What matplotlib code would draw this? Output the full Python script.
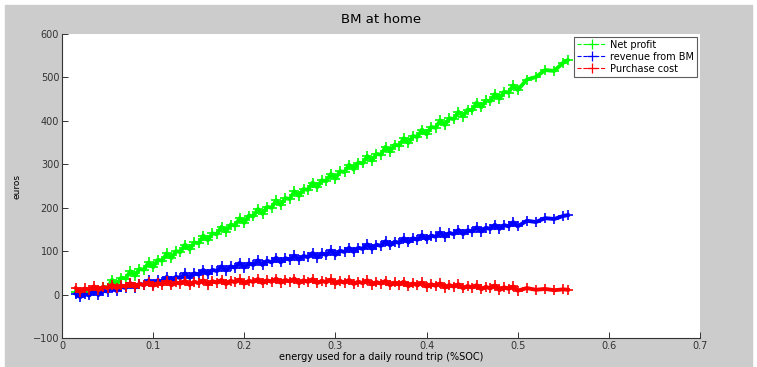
import matplotlib
matplotlib.use("Agg")
import matplotlib.pyplot as plt
from matplotlib.patches import Rectangle

# energy used for a daily round trip (%SOC)
soc = [0.015, 0.020, 0.025, 0.030, 0.035, 0.040, 0.045, 0.050, 0.055, 0.060,
       0.065, 0.070, 0.075, 0.080, 0.085, 0.090, 0.095, 0.100, 0.105, 0.110,
       0.115, 0.120, 0.125, 0.130, 0.135, 0.140, 0.145, 0.150, 0.155, 0.160,
       0.165, 0.170, 0.175, 0.180, 0.185, 0.190, 0.195, 0.200, 0.205, 0.210,
       0.215, 0.220, 0.225, 0.230, 0.235, 0.240, 0.245, 0.250, 0.255, 0.260,
       0.265, 0.270, 0.275, 0.280, 0.285, 0.290, 0.295, 0.300, 0.305, 0.310,
       0.315, 0.320, 0.325, 0.330, 0.335, 0.340, 0.345, 0.350, 0.355, 0.360,
       0.365, 0.370, 0.375, 0.380, 0.385, 0.390, 0.395, 0.400, 0.405, 0.410,
       0.415, 0.420, 0.425, 0.430, 0.435, 0.440, 0.445, 0.450, 0.455, 0.460,
       0.465, 0.470, 0.475, 0.480, 0.485, 0.490, 0.495, 0.500,
       0.51, 0.52, 0.53, 0.54, 0.55, 0.555]

net_profit = [6, 2, 7, 4, 13, 6, 18, 16, 34, 23,
              39, 37, 54, 43, 59, 57, 74, 63, 80, 78,
              95, 84, 100, 98, 115, 104, 120, 118, 136, 125,
              141, 139, 156, 145, 161, 159, 176, 165, 182, 180,
              197, 186, 202, 200, 217, 206, 222, 220, 238, 227,
              243, 241, 258, 247, 263, 261, 278, 267, 284, 282,
              299, 288, 304, 302, 319, 308, 324, 322, 340, 329,
              345, 343, 360, 349, 365, 363, 380, 369, 386, 384,
              401, 390, 406, 404, 421, 410, 426, 424, 442, 431,
              447, 445, 462, 451, 467, 465, 482, 471,
              495, 501, 517, 515, 534, 540]

revenue_bm = [2, -6, 1, -2, 9, -1, 9, 7, 18, 8,
              18, 15, 26, 16, 25, 22, 33, 23, 33, 30,
              41, 31, 41, 38, 49, 39, 49, 46, 57, 47,
              57, 54, 65, 55, 65, 62, 73, 62, 72, 68,
              79, 68, 78, 74, 85, 74, 84, 80, 90, 80,
              89, 86, 96, 85, 95, 91, 102, 91, 101, 98,
              108, 98, 108, 105, 116, 105, 115, 112, 123, 113,
              122, 119, 130, 120, 130, 126, 137, 127, 136, 133,
              143, 133, 142, 139, 149, 139, 148, 145, 155, 145,
              154, 151, 161, 151, 160, 157, 167, 157,
              170, 167, 176, 174, 181, 183]

purchase_cost = [15, 6, 14, 11, 19, 10, 18, 15, 23, 14,
                 21, 18, 26, 17, 25, 21, 29, 20, 27, 23,
                 31, 21, 28, 25, 32, 22, 30, 26, 33, 23,
                 31, 27, 34, 24, 32, 28, 35, 25, 32, 29,
                 36, 26, 33, 29, 37, 27, 34, 30, 37, 26,
                 33, 29, 36, 26, 32, 28, 35, 25, 32, 27,
                 34, 24, 30, 26, 33, 23, 29, 25, 32, 21,
                 28, 23, 30, 19, 26, 21, 28, 18, 24, 20,
                 26, 16, 22, 18, 24, 14, 20, 16, 22, 12,
                 18, 14, 21, 10, 17, 13, 19, 9,
                 15, 11, 13, 10, 12, 11]

fig = plt.figure(figsize=(7.57, 3.67), dpi=100, facecolor="white")
# grey matlab figure area
fig.patches.append(Rectangle((5 / 757, 0.0), 747 / 757, 362 / 367,
                             transform=fig.transFigure, color="#cccccc",
                             zorder=-10))

ax = fig.add_axes([62 / 757, 1 - 338 / 367, 638 / 757, 304 / 367])
ax.set_facecolor("white")

style = dict(linestyle="-", linewidth=2.8, marker="+",
             markersize=7, markeredgewidth=1.2)
ax.plot(soc, net_profit, color="#00ff00", label="Net profit", **style)
ax.plot(soc, revenue_bm, color="#0000ff", label="revenue from BM", **style)
ax.plot(soc, purchase_cost, color="#ff0000", label="Purchase cost", **style)

ax.set_xlim(0, 0.7)
ax.set_ylim(-100, 600)
ax.set_xticks([0, 0.1, 0.2, 0.3, 0.4, 0.5, 0.6, 0.7])
ax.set_xticklabels(["0", "0.1", "0.2", "0.3", "0.4", "0.5", "0.6", "0.7"])
ax.set_yticks([-100, 0, 100, 200, 300, 400, 500, 600])

for s in ["top", "right"]:
    ax.spines[s].set_visible(False)
for s in ["left", "bottom"]:
    ax.spines[s].set_color("#333333")
    ax.spines[s].set_linewidth(0.8)
ax.tick_params(direction="in", length=4, width=0.7, labelsize=7,
               colors="#333333", pad=2)

ax.set_title("BM at home", fontsize=9.5, pad=8)
ax.set_xlabel("energy used for a daily round trip (%SOC)", fontsize=7,
              labelpad=1)
ax.set_ylabel("euros", fontsize=6.5, labelpad=8)

leg = ax.legend(loc="upper right", fontsize=7, frameon=True, fancybox=False,
                borderpad=0.3, handlelength=3, handletextpad=0.4,
                labelspacing=0.2, borderaxespad=0.3)
leg.get_frame().set_edgecolor("#333333")
leg.get_frame().set_linewidth(0.8)
for line in leg.get_lines():
    line.set_linestyle("--")
    line.set_linewidth(0.8)
    line.set_markeredgewidth(0.9)

fig.savefig("out.png", dpi=100, facecolor=fig.get_facecolor())
